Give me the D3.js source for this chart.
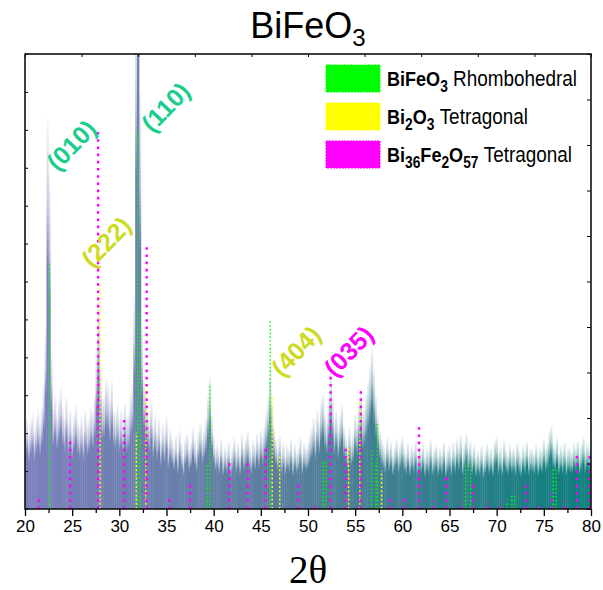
<!DOCTYPE html>
<html>
<head>
<meta charset="utf-8">
<script src="https://cdn.jsdelivr.net/npm/d3@7"></script>
<style>
  body { margin: 0; background: #fff; }
  svg { display: block; font-family: "Liberation Sans", Arial, sans-serif; }
</style>
</head>
<body>
<svg></svg>
<script>
const width = 603;
const height = 590;
const margin = {top: 54, right: 12, bottom: 81, left: 25};

// XRD scan, 2θ from 20 to 80 in 0.2 steps (counts, arbitrary units)
const startAngle = 20;
const stepAngle = 0.2;
const counts = [
  215, 240, 198, 230, 252, 205, 238, 262, 224, 270,
  330, 480, 1030, 880, 420, 265, 300, 248, 285, 322,
  270, 240, 295, 228, 262, 210, 248, 275, 232, 218,
  245, 205, 262, 225, 238, 270, 250, 300, 420, 555,
  380, 290, 300, 345, 330, 285, 340, 265, 250, 278,
  240, 262, 225, 280, 238, 255, 300, 330, 560, 1400,
  1900, 1100, 480, 340, 300, 262, 240, 285, 215, 250,
  205, 238, 180, 226, 195, 245, 172, 210, 188, 160,
  195, 150, 208, 172, 140, 185, 200, 158, 176, 215,
  182, 160, 205, 228, 190, 212, 240, 300, 350, 250,
  195, 160, 172, 148, 185, 140, 166, 150, 178, 135,
  165, 190, 152, 175, 142, 198, 160, 185, 205, 170,
  150, 182, 165, 200, 172, 210, 188, 225, 260, 300,
  370, 280, 215, 185, 160, 195, 150, 175, 142, 168,
  155, 185, 138, 172, 150, 162, 190, 145, 175, 158,
  170, 195, 215, 240, 205, 262, 230, 285, 305, 250,
  230, 290, 360, 300, 228, 262, 210, 245, 278, 220,
  195, 170, 215, 180, 200, 250, 225, 280, 315, 255,
  270, 305, 340, 380, 428, 360, 300, 250, 210, 185,
  170, 150, 190, 158, 178, 140, 165, 185, 150, 172,
  190, 160, 145, 175, 138, 168, 152, 180, 142, 165,
  150, 172, 135, 160, 148, 182, 140, 158, 170, 138,
  162, 145, 178, 132, 155, 168, 140, 175, 150, 185,
  160, 195, 142, 175, 200, 158, 180, 145, 170, 136,
  155, 140, 168, 128, 150, 172, 145, 160, 135, 178,
  190, 148, 165, 138, 180, 155, 142, 170, 150, 162,
  140, 175, 152, 135, 168, 148, 180, 142, 160, 155,
  145, 170, 138, 162, 150, 185, 158, 172, 205, 220,
  175, 160, 190, 145, 168, 150, 175, 140, 162, 155,
  148, 172, 158, 180, 145, 168, 190, 152, 175, 160,
  170
];

// reference patterns: peak positions (2θ) and heights (same counts)
const bfoPos = [22.6, 31.95, 32.2, 39.3, 39.6, 46.0, 51.6, 51.9, 56.75, 57.2, 57.35, 66.7, 67.25, 71.1, 71.6, 71.9, 76.0, 76.3];
const bfoInt = [652, 1000, 520, 116, 327, 496, 127, 127, 153, 121, 224, 121, 121, 20, 42, 34, 106, 106];
const bi2o3Pos = [27.96, 31.8, 32.8, 46.2, 47.0, 54.3, 55.5, 57.8];
const bi2o3Int = [591, 201, 332, 300, 142, 161, 283, 101];
const bi36Pos = [21.45, 24.78, 27.75, 30.5, 32.9, 35.3, 37.5, 41.66, 43.6, 45.5, 49.0, 50.7, 52.4, 54.0, 55.6, 58.7,
  60.25, 61.77, 63.25, 64.7, 66.2, 67.5, 69.0, 70.35, 73.1, 74.5, 75.85, 77.2, 78.5, 79.86];
const bi36Int = [32, 190, 1000, 243, 691, 32, 71, 121, 132, 171, 71, 15, 354, 161, 311, 32,
  32, 222, 21, 92, 21, 71, 21, 21, 63, 13, 42, 21, 150, 140];

// Miller index annotations
const hklText = ['(010)', '(110)', '(222)', '(404)', '(035)'];
const hklAngle = [24.9, 34.9, 28.6, 48.7, 54.3];
const hklLevel = [960, 1060, 705, 417, 417];
const hklPhase = [0, 0, 1, 1, 2];

const phaseFormula = [['BiFeO', '3'], ['Bi', '2', 'O', '3'], ['Bi', '36', 'Fe', '2', 'O', '57']];
const phaseName = ['Rhombohedral', 'Tetragonal', 'Tetragonal'];
const phaseColor = ['#00ff00', '#ffff00', '#ff00ff'];
const labelColor = ['#1dcd8e', '#cddc1e', '#ff00ff'];

const xTicks = d3.range(20, 81, 5);

const svg = d3.select('svg').attr('width', width).attr('height', height);

const x = d3.scaleLinear().domain([20, 80]).range([margin.left, width - margin.right]);
const y = d3.scaleLinear().domain([0, 1200]).range([height - margin.bottom, margin.top]);
const yRight = d3.scaleLinear().domain([0, 10]).range([height - margin.bottom, margin.top]);

const defs = svg.append('defs');

defs.append('clipPath').attr('id', 'plotClip')
  .append('rect')
  .attr('x', margin.left).attr('y', margin.top)
  .attr('width', width - margin.left - margin.right)
  .attr('height', height - margin.top - margin.bottom);

// colour runs from lavender on the left to teal on the right
const hue = defs.append('linearGradient').attr('id', 'hue')
  .attr('gradientUnits', 'userSpaceOnUse')
  .attr('x1', x(20)).attr('x2', x(80)).attr('y1', 0).attr('y2', 0);
hue.append('stop').attr('offset', 0).attr('stop-color', '#7c80bc');
hue.append('stop').attr('offset', 0.45).attr('stop-color', '#5a7e9e');
hue.append('stop').attr('offset', 1).attr('stop-color', '#0b7f7b');

// each spike fades out toward its tip
const fade = defs.append('linearGradient').attr('id', 'fade')
  .attr('x1', 0).attr('y1', 0).attr('x2', 0).attr('y2', 1);
fade.append('stop').attr('offset', 0).attr('stop-color', '#fff').attr('stop-opacity', 0.05);
fade.append('stop').attr('offset', 0.22).attr('stop-color', '#fff').attr('stop-opacity', 0.4);
fade.append('stop').attr('offset', 0.38).attr('stop-color', '#fff').attr('stop-opacity', 1);
fade.append('stop').attr('offset', 1).attr('stop-color', '#fff').attr('stop-opacity', 1);

const mask = defs.append('mask').attr('id', 'spikes')
  .attr('maskUnits', 'userSpaceOnUse')
  .attr('x', 0).attr('y', 0).attr('width', width).attr('height', height);

const barW = x(startAngle + stepAngle) - x(startAngle);
mask.selectAll('rect')
  .data(counts)
  .enter().append('rect')
  .attr('x', (d, i) => x(startAngle + i * stepAngle) - barW / 2 - 0.2)
  .attr('width', barW + 0.4)
  .attr('y', d => y(d))
  .attr('height', d => y(0) - y(d))
  .attr('fill', 'url(#fade)');

const plot = svg.append('g').attr('clip-path', 'url(#plotClip)');

plot.append('rect')
  .attr('x', margin.left).attr('y', margin.top)
  .attr('width', width - margin.left - margin.right)
  .attr('height', height - margin.top - margin.bottom)
  .attr('fill', 'url(#hue)')
  .attr('mask', 'url(#spikes)');

// reference lines
function dropLines(pos, vals, color, w, dash) {
  plot.append('g').selectAll('line')
    .data(pos)
    .enter().append('line')
    .attr('x1', d => x(d)).attr('x2', d => x(d))
    .attr('y1', y(0))
    .attr('y2', (d, i) => y(vals[i]))
    .attr('stroke', color)
    .attr('stroke-width', w)
    .attr('stroke-dasharray', dash);
}
dropLines(bfoPos, bfoInt, '#00ff00', 1.4, '1.6,2.2');
dropLines(bi2o3Pos, bi2o3Int, '#ffff00', 1.4, '2,2.2');
dropLines(bi36Pos, bi36Int, '#ff00ff', 2.4, '2.6,4.6');

// hkl labels
svg.append('g').selectAll('text')
  .data(hklText)
  .enter().append('text')
  .attr('transform', (d, i) => `translate(${x(hklAngle[i])},${y(hklLevel[i])}) rotate(-46)`)
  .attr('text-anchor', 'middle')
  .attr('dominant-baseline', 'central')
  .attr('font-size', 25)
  .attr('font-weight', 'bold')
  .attr('fill', (d, i) => labelColor[hklPhase[i]])
  .text(d => d);

// axes
const axisBottomG = svg.append('g')
  .attr('transform', `translate(0,${height - margin.bottom})`)
  .call(d3.axisBottom(x).tickValues(xTicks).tickSize(7).tickPadding(4));
axisBottomG.select('.domain').remove();
axisBottomG.selectAll('text').attr('font-size', 17).attr('fill', '#000').attr('font-family', '"Liberation Sans", Arial, sans-serif');
axisBottomG.selectAll('line').attr('stroke-width', 1.3);

const minorG = svg.append('g')
  .attr('transform', `translate(0,${height - margin.bottom})`)
  .call(d3.axisBottom(x).tickValues(xTicks.slice(0, -1).map(v => v + 2.5)).tickSize(4).tickFormat(''));
minorG.select('.domain').remove();
minorG.selectAll('line').attr('stroke-width', 1.3);

const axisTopG = svg.append('g')
  .attr('transform', `translate(0,${margin.top})`)
  .call(d3.axisTop(x).tickValues(d3.range(20, 81, 6)).tickSize(-3).tickFormat(''));
axisTopG.select('.domain').remove();

const axisLeftG = svg.append('g')
  .attr('transform', `translate(${margin.left},0)`)
  .call(d3.axisLeft(y).tickValues(d3.range(0, 1201, 100)).tickSize(-3).tickFormat(''));
axisLeftG.select('.domain').remove();

const axisRightG = svg.append('g')
  .attr('transform', `translate(${width - margin.right},0)`)
  .call(d3.axisRight(yRight).ticks(10).tickSize(-4).tickFormat(''));
axisRightG.select('.domain').remove();

svg.append('rect')
  .attr('x', margin.left).attr('y', margin.top)
  .attr('width', width - margin.left - margin.right)
  .attr('height', height - margin.top - margin.bottom)
  .attr('fill', 'none')
  .attr('stroke', '#111')
  .attr('stroke-width', 1.6);

// title
const title = svg.append('text')
  .attr('x', (margin.left + width - margin.right) / 2)
  .attr('y', 38)
  .attr('text-anchor', 'middle')
  .attr('font-size', 36);
title.append('tspan').text('BiFeO');
title.append('tspan').attr('font-size', 24).attr('dy', 8).text('3');

svg.append('text')
  .attr('x', (margin.left + width - margin.right) / 2)
  .attr('y', 583)
  .attr('text-anchor', 'middle')
  .attr('font-family', '"Liberation Serif", "Times New Roman", serif')
  .attr('font-size', 39)
  .text('2θ');

// legend (condensed face, like the original)
const legend = svg.append('g');
phaseName.forEach((name, i) => {
  const ly = 65 + i * 38;
  legend.append('rect')
    .attr('x', 326).attr('y', ly)
    .attr('width', 54).attr('height', 27)
    .attr('fill', phaseColor[i])
    .attr('stroke', phaseColor[i])
    .attr('stroke-dasharray', '2,1');
  const t = legend.append('text')
    .attr('transform', `translate(387,${ly + 21}) scale(0.86,1)`)
    .attr('font-size', 22);
  phaseFormula[i].forEach((part, k) => {
    const sub = k % 2 === 1;
    t.append('tspan')
      .attr('font-weight', 'bold')
      .attr('font-size', sub ? 16 : 21)
      .attr('dy', sub ? 6 : (k > 0 ? -6 : 0))
      .text(part);
  });
  t.append('tspan')
    .attr('dy', -6)
    .text('\u00a0' + name);
});
</script>
</body>
</html>
